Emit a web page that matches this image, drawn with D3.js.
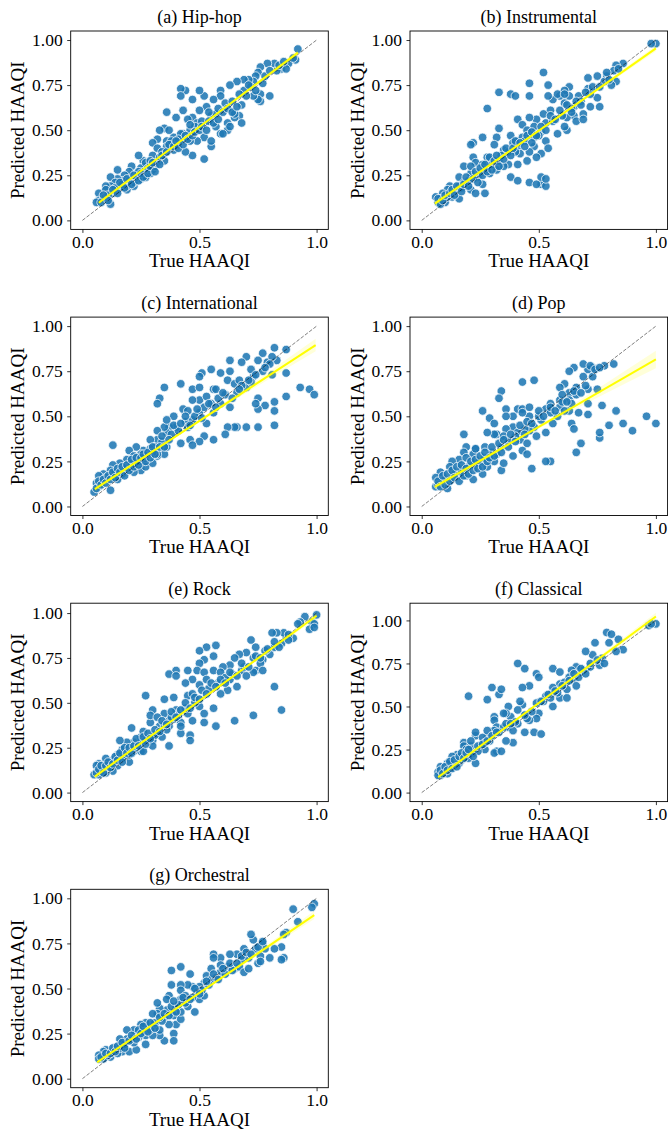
<!DOCTYPE html>
<html>
<head>
<meta charset="utf-8">
<script src="https://cdn.jsdelivr.net/npm/d3@7"></script>
<style>
   body { margin: 0; background: #fff; }
   svg { display: block; }
   text { font-family: "Liberation Serif", "DejaVu Serif", serif; fill: #000; }
</style>
</head>
<body>
<div id="chart"></div>
<script>

// PANEL TITLES
var titles = ['(a) Hip-hop', '(b) Instrumental', '(c) International', '(d) Pop', '(e) Rock', '(f) Classical', '(g) Orchestral'];

// TICK VALUES
var xTicks = [0.0, 0.5, 1.0];
var yTicks = [0.00, 0.25, 0.50, 0.75, 1.00];

// [TRUE HAAQI, PREDICTED HAAQI]
var hipHop = [[0.92,0.95],[0.91,0.89],[0.88,0.87],[0.85,0.84],[0.82,0.87],[0.79,0.87],[0.76,0.85],[0.75,0.82],[0.74,0.80],[0.73,0.77],[0.71,0.78],[0.69,0.78],[0.66,0.77],[0.63,0.75],[0.59,0.72],[0.59,0.69],[0.56,0.67],[0.52,0.69],[0.50,0.72],[0.47,0.67],[0.44,0.72],[0.42,0.73],[0.42,0.69],[0.43,0.61],[0.36,0.60],[0.40,0.57],[0.76,0.70],[0.80,0.69],[0.76,0.66],[0.75,0.67],[0.68,0.64],[0.67,0.58],[0.68,0.54],[0.65,0.57],[0.62,0.54],[0.62,0.50],[0.63,0.52],[0.57,0.52],[0.59,0.48],[0.55,0.58],[0.53,0.63],[0.50,0.61],[0.47,0.57],[0.45,0.56],[0.49,0.54],[0.46,0.50],[0.43,0.48],[0.52,0.46],[0.55,0.41],[0.55,0.44],[0.49,0.44],[0.47,0.36],[0.52,0.34],[0.39,0.46],[0.36,0.44],[0.35,0.51],[0.33,0.50],[0.37,0.50],[0.42,0.48],[0.40,0.41],[0.44,0.38],[0.39,0.39],[0.36,0.41],[0.32,0.45],[0.30,0.43],[0.32,0.40],[0.30,0.36],[0.26,0.33],[0.24,0.36],[0.27,0.30],[0.25,0.29],[0.23,0.26],[0.21,0.30],[0.20,0.27],[0.18,0.25],[0.17,0.22],[0.15,0.28],[0.15,0.23],[0.12,0.24],[0.14,0.21],[0.12,0.19],[0.10,0.19],[0.10,0.17],[0.07,0.15],[0.07,0.11],[0.09,0.12],[0.12,0.09],[0.06,0.10],[0.15,0.17],[0.19,0.17],[0.22,0.19],[0.25,0.23],[0.27,0.24],[0.29,0.26],[0.30,0.28],[0.32,0.32],[0.35,0.33],[0.27,0.32],[0.27,0.24],[0.22,0.21],[0.19,0.19],[0.16,0.19],[0.13,0.15],[0.10,0.13],[0.60,0.48],[0.65,0.59],[0.57,0.59],[0.73,0.69],[0.77,0.76],[0.83,0.83],[0.87,0.84],[0.90,0.90],[0.20,0.22],[0.23,0.24],[0.26,0.27],[0.28,0.29],[0.31,0.30],[0.33,0.35],[0.34,0.38],[0.38,0.44],[0.41,0.45],[0.44,0.47],[0.46,0.44],[0.48,0.52],[0.51,0.55],[0.54,0.55],[0.58,0.62],[0.61,0.65],[0.64,0.66],[0.69,0.72],[0.72,0.74],[0.08,0.10],[0.11,0.14],[0.14,0.18],[0.17,0.20],[0.24,0.27],[0.29,0.33],[0.09,0.14],[0.11,0.11],[0.13,0.17],[0.15,0.15],[0.16,0.21],[0.18,0.18],[0.19,0.23],[0.21,0.20],[0.22,0.25],[0.24,0.22],[0.25,0.26],[0.26,0.24],[0.28,0.26],[0.29,0.30],[0.30,0.32],[0.31,0.27],[0.33,0.31],[0.34,0.36],[0.36,0.38],[0.37,0.42],[0.39,0.41],[0.40,0.44],[0.41,0.40],[0.43,0.42],[0.45,0.45],[0.46,0.53],[0.47,0.47],[0.48,0.49],[0.50,0.50],[0.51,0.52],[0.53,0.50],[0.54,0.60],[0.56,0.54],[0.58,0.56],[0.60,0.60],[0.62,0.62],[0.64,0.60],[0.66,0.63],[0.67,0.70],[0.70,0.69],[0.71,0.75],[0.74,0.72],[0.78,0.80],[0.80,0.83],[0.84,0.86],[0.86,0.88]];

var instrumental = [[1.00,0.98],[0.98,0.98],[0.86,0.87],[0.83,0.86],[0.82,0.83],[0.79,0.80],[0.83,0.77],[0.81,0.75],[0.75,0.80],[0.71,0.79],[0.71,0.73],[0.67,0.69],[0.63,0.69],[0.75,0.68],[0.72,0.63],[0.76,0.63],[0.69,0.59],[0.65,0.58],[0.62,0.57],[0.66,0.55],[0.69,0.56],[0.62,0.50],[0.58,0.48],[0.61,0.52],[0.63,0.74],[0.61,0.72],[0.59,0.69],[0.56,0.67],[0.61,0.65],[0.55,0.61],[0.52,0.59],[0.49,0.56],[0.53,0.54],[0.51,0.49],[0.46,0.48],[0.48,0.52],[0.52,0.82],[0.46,0.76],[0.46,0.69],[0.54,0.75],[0.54,0.69],[0.58,0.70],[0.33,0.71],[0.38,0.70],[0.40,0.69],[0.28,0.62],[0.41,0.56],[0.46,0.57],[0.43,0.53],[0.33,0.51],[0.38,0.47],[0.32,0.46],[0.26,0.46],[0.31,0.42],[0.35,0.39],[0.41,0.41],[0.42,0.37],[0.48,0.41],[0.53,0.44],[0.54,0.40],[0.51,0.37],[0.49,0.35],[0.46,0.38],[0.45,0.33],[0.41,0.31],[0.37,0.31],[0.38,0.24],[0.41,0.22],[0.46,0.21],[0.51,0.20],[0.51,0.24],[0.53,0.19],[0.49,0.20],[0.53,0.23],[0.22,0.43],[0.21,0.42],[0.18,0.30],[0.22,0.35],[0.23,0.32],[0.26,0.31],[0.28,0.35],[0.25,0.26],[0.21,0.26],[0.16,0.24],[0.18,0.21],[0.16,0.19],[0.12,0.19],[0.11,0.17],[0.09,0.15],[0.06,0.13],[0.07,0.10],[0.10,0.10],[0.13,0.13],[0.16,0.12],[0.21,0.17],[0.23,0.15],[0.27,0.15],[0.26,0.20],[0.29,0.26],[0.32,0.28],[0.35,0.30],[0.33,0.33],[0.29,0.35],[0.21,0.30],[0.41,0.44],[0.43,0.46],[0.45,0.50],[0.48,0.46],[0.39,0.43],[0.61,0.70],[0.65,0.63],[0.78,0.77],[0.08,0.12],[0.11,0.13],[0.14,0.16],[0.17,0.18],[0.20,0.22],[0.24,0.24],[0.27,0.28],[0.30,0.31],[0.34,0.36],[0.37,0.38],[0.40,0.38],[0.44,0.44],[0.47,0.43],[0.50,0.47],[0.56,0.55],[0.60,0.58],[0.64,0.62],[0.68,0.66],[0.72,0.70],[0.80,0.78],[0.07,0.12],[0.08,0.09],[0.09,0.11],[0.10,0.14],[0.12,0.15],[0.13,0.17],[0.14,0.14],[0.15,0.19],[0.17,0.16],[0.18,0.20],[0.19,0.24],[0.20,0.19],[0.22,0.23],[0.23,0.27],[0.24,0.21],[0.25,0.29],[0.26,0.25],[0.27,0.31],[0.28,0.27],[0.30,0.28],[0.31,0.33],[0.32,0.36],[0.33,0.30],[0.35,0.34],[0.36,0.40],[0.38,0.36],[0.39,0.40],[0.40,0.44],[0.42,0.43],[0.44,0.41],[0.45,0.47],[0.47,0.49],[0.49,0.47],[0.51,0.52],[0.53,0.50],[0.55,0.58],[0.57,0.56],[0.59,0.61],[0.62,0.64],[0.64,0.60],[0.66,0.66],[0.68,0.64],[0.70,0.71],[0.73,0.74],[0.76,0.74],[0.79,0.82],[0.84,0.84]];

var international = [[0.87,0.87],[0.82,0.88],[0.83,0.81],[0.79,0.80],[0.77,0.85],[0.81,0.83],[0.75,0.81],[0.70,0.83],[0.68,0.80],[0.63,0.81],[0.63,0.75],[0.59,0.74],[0.55,0.76],[0.51,0.74],[0.50,0.72],[0.47,0.65],[0.50,0.66],[0.56,0.65],[0.62,0.70],[0.65,0.68],[0.67,0.70],[0.73,0.72],[0.77,0.75],[0.81,0.73],[0.87,0.74],[0.93,0.66],[0.97,0.65],[0.99,0.62],[0.87,0.61],[0.82,0.58],[0.82,0.53],[0.78,0.56],[0.75,0.60],[0.75,0.54],[0.74,0.57],[0.82,0.45],[0.75,0.44],[0.70,0.44],[0.66,0.44],[0.65,0.44],[0.62,0.44],[0.61,0.40],[0.56,0.37],[0.52,0.39],[0.50,0.36],[0.46,0.37],[0.42,0.35],[0.47,0.34],[0.42,0.68],[0.35,0.66],[0.33,0.60],[0.32,0.57],[0.39,0.50],[0.43,0.54],[0.44,0.47],[0.47,0.48],[0.50,0.52],[0.53,0.46],[0.56,0.52],[0.59,0.57],[0.63,0.55],[0.66,0.63],[0.50,0.59],[0.53,0.61],[0.40,0.44],[0.37,0.44],[0.36,0.41],[0.35,0.44],[0.32,0.42],[0.32,0.37],[0.31,0.33],[0.29,0.32],[0.26,0.31],[0.25,0.29],[0.23,0.33],[0.20,0.31],[0.13,0.34],[0.22,0.28],[0.19,0.26],[0.26,0.26],[0.32,0.28],[0.35,0.29],[0.36,0.33],[0.25,0.20],[0.20,0.22],[0.16,0.24],[0.13,0.23],[0.12,0.20],[0.09,0.18],[0.07,0.17],[0.06,0.13],[0.05,0.08],[0.07,0.11],[0.12,0.09],[0.15,0.15],[0.17,0.18],[0.22,0.19],[0.27,0.22],[0.30,0.24],[0.32,0.29],[0.29,0.37],[0.36,0.48],[0.45,0.44],[0.45,0.53],[0.47,0.59],[0.57,0.65],[0.70,0.66],[0.72,0.76],[0.80,0.79],[0.08,0.14],[0.10,0.16],[0.14,0.19],[0.18,0.21],[0.21,0.24],[0.24,0.25],[0.27,0.28],[0.30,0.30],[0.34,0.36],[0.38,0.40],[0.41,0.42],[0.48,0.50],[0.52,0.55],[0.55,0.57],[0.58,0.60],[0.61,0.62],[0.68,0.67],[0.72,0.69],[0.06,0.10],[0.07,0.14],[0.08,0.12],[0.09,0.15],[0.10,0.13],[0.11,0.17],[0.12,0.15],[0.13,0.19],[0.14,0.16],[0.15,0.21],[0.16,0.19],[0.17,0.22],[0.18,0.17],[0.19,0.23],[0.20,0.20],[0.21,0.26],[0.22,0.22],[0.23,0.27],[0.24,0.23],[0.25,0.27],[0.26,0.29],[0.27,0.25],[0.28,0.30],[0.29,0.27],[0.30,0.33],[0.31,0.29],[0.33,0.33],[0.34,0.39],[0.35,0.33],[0.37,0.37],[0.39,0.45],[0.42,0.46],[0.44,0.50],[0.46,0.45],[0.49,0.54],[0.51,0.49],[0.54,0.57],[0.57,0.55],[0.60,0.63],[0.64,0.60],[0.67,0.65],[0.71,0.70],[0.74,0.73],[0.78,0.77]];

var pop = [[1.00,0.46],[0.96,0.50],[0.90,0.42],[0.86,0.46],[0.80,0.45],[0.83,0.53],[0.77,0.56],[0.76,0.38],[0.76,0.41],[0.82,0.79],[0.78,0.78],[0.73,0.77],[0.71,0.76],[0.69,0.72],[0.75,0.65],[0.71,0.65],[0.66,0.66],[0.65,0.77],[0.63,0.75],[0.61,0.68],[0.59,0.66],[0.63,0.63],[0.66,0.62],[0.63,0.59],[0.59,0.59],[0.59,0.55],[0.55,0.57],[0.53,0.54],[0.63,0.53],[0.61,0.53],[0.67,0.52],[0.71,0.51],[0.64,0.46],[0.65,0.43],[0.58,0.50],[0.56,0.46],[0.66,0.30],[0.68,0.35],[0.55,0.25],[0.53,0.25],[0.47,0.21],[0.48,0.70],[0.43,0.69],[0.34,0.64],[0.33,0.60],[0.36,0.54],[0.41,0.54],[0.43,0.54],[0.46,0.55],[0.46,0.50],[0.39,0.50],[0.36,0.50],[0.39,0.44],[0.36,0.43],[0.32,0.40],[0.35,0.39],[0.41,0.41],[0.42,0.37],[0.45,0.35],[0.43,0.31],[0.45,0.29],[0.39,0.28],[0.34,0.20],[0.35,0.24],[0.31,0.40],[0.29,0.49],[0.28,0.41],[0.27,0.33],[0.23,0.32],[0.22,0.29],[0.19,0.33],[0.18,0.40],[0.18,0.30],[0.16,0.26],[0.13,0.25],[0.12,0.22],[0.08,0.19],[0.06,0.16],[0.06,0.11],[0.11,0.10],[0.09,0.14],[0.13,0.15],[0.16,0.17],[0.19,0.17],[0.22,0.15],[0.26,0.18],[0.28,0.22],[0.31,0.25],[0.32,0.29],[0.26,0.25],[0.22,0.23],[0.18,0.21],[0.19,0.27],[0.23,0.32],[0.43,0.52],[0.48,0.44],[0.51,0.48],[0.53,0.41],[0.49,0.39],[0.46,0.42],[0.69,0.79],[0.72,0.78],[0.26,0.53],[0.31,0.46],[0.71,0.57],[0.07,0.12],[0.10,0.15],[0.14,0.18],[0.17,0.19],[0.20,0.22],[0.24,0.24],[0.27,0.27],[0.30,0.30],[0.34,0.33],[0.37,0.36],[0.40,0.39],[0.44,0.43],[0.50,0.50],[0.55,0.52],[0.60,0.58],[0.64,0.57],[0.07,0.14],[0.08,0.11],[0.09,0.17],[0.10,0.12],[0.11,0.18],[0.12,0.14],[0.13,0.20],[0.14,0.16],[0.15,0.22],[0.16,0.14],[0.17,0.23],[0.18,0.17],[0.19,0.21],[0.20,0.18],[0.21,0.25],[0.22,0.20],[0.23,0.26],[0.24,0.21],[0.25,0.28],[0.26,0.22],[0.27,0.30],[0.28,0.25],[0.29,0.27],[0.30,0.33],[0.31,0.28],[0.33,0.35],[0.34,0.30],[0.35,0.37],[0.37,0.33],[0.38,0.40],[0.40,0.36],[0.42,0.45],[0.44,0.40],[0.45,0.47],[0.47,0.46],[0.50,0.53],[0.52,0.50],[0.55,0.55],[0.57,0.53],[0.60,0.62],[0.62,0.58],[0.65,0.64],[0.68,0.63],[0.70,0.67],[0.73,0.72],[0.74,0.76],[0.76,0.77]];

var rock = [[1.00,0.99],[0.95,0.98],[0.98,0.95],[0.99,0.94],[0.97,0.91],[0.99,0.92],[0.93,0.95],[0.90,0.86],[0.87,0.87],[0.86,0.89],[0.83,0.89],[0.81,0.89],[0.85,0.83],[0.82,0.81],[0.80,0.77],[0.77,0.74],[0.73,0.75],[0.72,0.85],[0.74,0.81],[0.70,0.78],[0.67,0.77],[0.65,0.75],[0.63,0.71],[0.60,0.70],[0.57,0.82],[0.53,0.81],[0.50,0.79],[0.56,0.76],[0.52,0.74],[0.50,0.72],[0.49,0.68],[0.52,0.67],[0.53,0.63],[0.56,0.68],[0.59,0.67],[0.63,0.63],[0.66,0.59],[0.68,0.68],[0.74,0.68],[0.73,0.67],[0.76,0.72],[0.77,0.68],[0.70,0.65],[0.62,0.57],[0.59,0.55],[0.50,0.60],[0.47,0.63],[0.44,0.61],[0.45,0.68],[0.40,0.68],[0.37,0.66],[0.40,0.65],[0.45,0.54],[0.47,0.55],[0.50,0.48],[0.52,0.44],[0.56,0.47],[0.52,0.39],[0.57,0.37],[0.65,0.40],[0.73,0.43],[0.82,0.59],[0.85,0.46],[0.47,0.40],[0.45,0.44],[0.42,0.33],[0.46,0.32],[0.46,0.29],[0.37,0.26],[0.39,0.53],[0.35,0.52],[0.30,0.46],[0.35,0.44],[0.39,0.41],[0.40,0.46],[0.42,0.39],[0.37,0.37],[0.33,0.37],[0.32,0.33],[0.30,0.29],[0.27,0.54],[0.29,0.39],[0.29,0.43],[0.25,0.31],[0.26,0.34],[0.25,0.28],[0.21,0.36],[0.22,0.28],[0.19,0.28],[0.16,0.29],[0.17,0.24],[0.22,0.23],[0.25,0.23],[0.18,0.20],[0.15,0.21],[0.13,0.18],[0.10,0.19],[0.07,0.16],[0.06,0.15],[0.05,0.10],[0.07,0.10],[0.09,0.13],[0.15,0.15],[0.13,0.12],[0.10,0.11],[0.20,0.17],[0.26,0.23],[0.30,0.26],[0.34,0.31],[0.36,0.35],[0.37,0.40],[0.32,0.42],[0.42,0.37],[0.08,0.12],[0.11,0.14],[0.14,0.17],[0.17,0.19],[0.20,0.21],[0.23,0.25],[0.27,0.29],[0.31,0.32],[0.35,0.38],[0.38,0.42],[0.41,0.43],[0.44,0.47],[0.48,0.50],[0.54,0.58],[0.58,0.61],[0.61,0.64],[0.64,0.66],[0.69,0.70],[0.78,0.79],[0.88,0.88],[0.06,0.11],[0.07,0.13],[0.08,0.15],[0.09,0.11],[0.10,0.15],[0.11,0.17],[0.12,0.14],[0.13,0.16],[0.14,0.20],[0.15,0.18],[0.16,0.22],[0.17,0.17],[0.18,0.25],[0.19,0.22],[0.20,0.25],[0.21,0.22],[0.22,0.26],[0.23,0.30],[0.24,0.26],[0.26,0.31],[0.27,0.27],[0.28,0.33],[0.29,0.30],[0.31,0.35],[0.33,0.34],[0.34,0.40],[0.36,0.38],[0.38,0.45],[0.40,0.42],[0.42,0.46],[0.44,0.50],[0.46,0.47],[0.48,0.53],[0.50,0.52],[0.51,0.57],[0.53,0.55],[0.55,0.61],[0.57,0.59],[0.59,0.63],[0.61,0.61],[0.63,0.67],[0.66,0.65],[0.68,0.72],[0.71,0.70],[0.74,0.76],[0.76,0.75],[0.79,0.80],[0.82,0.84],[0.84,0.81],[0.88,0.85],[0.92,0.94]];

var classical = [[1.00,0.98],[0.97,0.97],[0.98,0.98],[0.86,0.83],[0.83,0.82],[0.84,0.89],[0.79,0.93],[0.81,0.92],[0.80,0.87],[0.76,0.74],[0.73,0.80],[0.74,0.87],[0.70,0.82],[0.72,0.73],[0.69,0.71],[0.66,0.73],[0.64,0.71],[0.63,0.67],[0.65,0.66],[0.66,0.62],[0.62,0.60],[0.59,0.55],[0.62,0.55],[0.59,0.63],[0.56,0.72],[0.59,0.70],[0.56,0.61],[0.55,0.57],[0.56,0.50],[0.52,0.53],[0.55,0.55],[0.49,0.52],[0.50,0.46],[0.49,0.43],[0.46,0.42],[0.45,0.43],[0.49,0.69],[0.50,0.67],[0.44,0.72],[0.41,0.75],[0.46,0.62],[0.43,0.61],[0.43,0.51],[0.42,0.53],[0.37,0.50],[0.38,0.44],[0.36,0.46],[0.41,0.40],[0.37,0.38],[0.39,0.36],[0.44,0.35],[0.48,0.35],[0.51,0.34],[0.39,0.29],[0.36,0.30],[0.31,0.44],[0.31,0.42],[0.32,0.38],[0.35,0.38],[0.31,0.36],[0.28,0.54],[0.30,0.61],[0.33,0.57],[0.34,0.60],[0.20,0.56],[0.28,0.32],[0.23,0.33],[0.23,0.35],[0.32,0.24],[0.31,0.23],[0.34,0.24],[0.25,0.27],[0.27,0.25],[0.23,0.17],[0.22,0.23],[0.19,0.21],[0.18,0.29],[0.18,0.27],[0.15,0.22],[0.13,0.21],[0.12,0.16],[0.11,0.17],[0.08,0.15],[0.07,0.12],[0.09,0.12],[0.11,0.11],[0.16,0.17],[0.19,0.25],[0.21,0.27],[0.21,0.30],[0.26,0.32],[0.28,0.36],[0.35,0.46],[0.41,0.48],[0.36,0.40],[0.08,0.10],[0.10,0.13],[0.12,0.14],[0.14,0.16],[0.17,0.19],[0.20,0.20],[0.24,0.24],[0.27,0.29],[0.29,0.30],[0.33,0.35],[0.40,0.41],[0.47,0.47],[0.53,0.56],[0.58,0.58],[0.61,0.64],[0.67,0.67],[0.70,0.69],[0.77,0.78],[0.07,0.10],[0.08,0.13],[0.09,0.11],[0.10,0.15],[0.11,0.13],[0.12,0.18],[0.13,0.14],[0.14,0.19],[0.15,0.15],[0.16,0.21],[0.17,0.23],[0.18,0.20],[0.19,0.23],[0.20,0.25],[0.22,0.21],[0.24,0.27],[0.26,0.28],[0.28,0.30],[0.30,0.33],[0.32,0.35],[0.38,0.40],[0.44,0.45],[0.51,0.53],[0.54,0.57],[0.57,0.59],[0.60,0.62],[0.63,0.65],[0.65,0.69],[0.68,0.72],[0.72,0.75],[0.75,0.77],[0.78,0.75]];

var orchestral = [[0.99,0.97],[0.98,0.95],[0.90,0.94],[0.92,0.87],[0.87,0.81],[0.86,0.80],[0.85,0.73],[0.82,0.72],[0.86,0.67],[0.85,0.66],[0.80,0.67],[0.76,0.68],[0.77,0.75],[0.73,0.77],[0.72,0.80],[0.69,0.72],[0.66,0.69],[0.63,0.69],[0.59,0.67],[0.56,0.69],[0.56,0.67],[0.62,0.62],[0.65,0.61],[0.67,0.62],[0.69,0.59],[0.71,0.61],[0.75,0.64],[0.76,0.65],[0.59,0.59],[0.59,0.63],[0.55,0.61],[0.53,0.57],[0.55,0.55],[0.52,0.53],[0.50,0.51],[0.47,0.51],[0.50,0.44],[0.52,0.46],[0.45,0.52],[0.42,0.62],[0.46,0.58],[0.38,0.60],[0.38,0.52],[0.37,0.46],[0.42,0.52],[0.42,0.49],[0.44,0.46],[0.49,0.48],[0.48,0.37],[0.45,0.40],[0.42,0.44],[0.40,0.40],[0.39,0.35],[0.40,0.30],[0.39,0.25],[0.39,0.21],[0.42,0.33],[0.42,0.37],[0.36,0.38],[0.33,0.39],[0.32,0.36],[0.35,0.34],[0.37,0.30],[0.35,0.21],[0.33,0.24],[0.30,0.29],[0.27,0.31],[0.25,0.30],[0.27,0.24],[0.27,0.19],[0.23,0.25],[0.22,0.27],[0.19,0.27],[0.19,0.22],[0.16,0.22],[0.17,0.15],[0.20,0.15],[0.23,0.16],[0.22,0.20],[0.14,0.17],[0.10,0.16],[0.09,0.15],[0.07,0.13],[0.07,0.11],[0.12,0.12],[0.15,0.14],[0.30,0.24],[0.33,0.27],[0.30,0.36],[0.36,0.44],[0.32,0.42],[0.09,0.11],[0.11,0.13],[0.13,0.15],[0.16,0.17],[0.18,0.19],[0.21,0.22],[0.24,0.23],[0.26,0.26],[0.29,0.27],[0.31,0.31],[0.34,0.32],[0.38,0.40],[0.41,0.41],[0.44,0.42],[0.47,0.45],[0.51,0.49],[0.54,0.52],[0.57,0.56],[0.61,0.58],[0.64,0.60],[0.68,0.66],[0.71,0.67],[0.74,0.72],[0.78,0.72],[0.08,0.12],[0.10,0.14],[0.12,0.14],[0.13,0.17],[0.14,0.15],[0.15,0.18],[0.17,0.20],[0.18,0.17],[0.20,0.21],[0.21,0.24],[0.23,0.22],[0.24,0.27],[0.25,0.25],[0.26,0.29],[0.28,0.26],[0.29,0.31],[0.31,0.28],[0.33,0.34],[0.35,0.36],[0.37,0.35],[0.39,0.43],[0.40,0.37],[0.43,0.45],[0.46,0.44],[0.48,0.50],[0.50,0.47],[0.53,0.54],[0.56,0.58],[0.58,0.55],[0.60,0.61],[0.63,0.64],[0.66,0.64],[0.68,0.68],[0.70,0.70],[0.72,0.69],[0.75,0.73],[0.77,0.76]];

// REGRESSION FIT ENDPOINTS [[x0, y0], [x1, y1]]
var fits = [
   [[0.07,0.098],[0.92,0.930]],
   [[0.056,0.093],[1.00,0.954]],
   [[0.053,0.096],[0.996,0.895]],
   [[0.056,0.109],[1.00,0.815]],
   [[0.053,0.089],[1.00,0.985]],
   [[0.07,0.089],[1.00,1.023]],
   [[0.063,0.091],[0.99,0.907]]
];

// CONFIDENCE BAND HALF-WIDTHS AT START, MIDDLE, END
var bands = [
   [0.012,0.006,0.014],
   [0.014,0.006,0.016],
   [0.014,0.008,0.035],
   [0.016,0.010,0.048],
   [0.012,0.006,0.015],
   [0.015,0.008,0.022],
   [0.012,0.007,0.022]
];

// Y-AXIS UPPER LIMITS
var yMax = [1.05, 1.05, 1.05, 1.05, 1.055, 1.10, 1.05];

var series = [hipHop, instrumental, international, pop, rock, classical, orchestral];

// LAYOUT SETTINGS
var settings = {
   width: 668,
   height: 1131,
   left: [70.7, 410],
   top: 31,
   rowStep: 286.1,
   frameW: 257.6,
   frameH: 198.4,
   radius: 4.3,
   dot: '#1f77b4',
   fit: '#ffff00'
};

// GENERATE CANVAS
var canvas = d3.select('#chart').append('svg')
   .attr('width', settings.width)
   .attr('height', settings.height)

series.forEach((points, k) => {
   var col = k % 2, row = Math.floor(k / 2);
   var g = canvas.append('g')
      .attr('transform', 'translate(' + settings.left[col] + ',' + (settings.top + row * settings.rowStep) + ')')

   // X-SCALING
   var xScale = d3.scaleLinear()
      .domain([-0.05, 1.05])
      .range([0, settings.frameW])

   // Y-SCALING
   var yScale = d3.scaleLinear()
      .domain([-0.05 * yMax[k] / 1.05, yMax[k]])
      .range([settings.frameH, 0])

   // DOTS
   g.append('g').selectAll('circle')
      .data(points)
      .enter().append('circle')
         .attr('cx', (d) => { return xScale(d[0]) })
         .attr('cy', (d) => { return yScale(d[1]) })
         .attr('r', settings.radius)
         .attr('fill', settings.dot)
         .attr('fill-opacity', 0.88)
         .attr('stroke', '#fff')
         .attr('stroke-width', 0.75)

   // DIAGONAL REFERENCE
   g.append('line')
      .attr('x1', xScale(0)).attr('y1', yScale(0))
      .attr('x2', xScale(1)).attr('y2', yScale(1))
      .attr('stroke', '#000')
      .attr('stroke-opacity', 0.5)
      .attr('stroke-width', 1)
      .attr('stroke-dasharray', '3.7,1.6')

   // CONFIDENCE BAND
   var f = fits[k], b = bands[k];
   var slope = (f[1][1] - f[0][1]) / (f[1][0] - f[0][0]);
   var xm = (f[0][0] + f[1][0]) / 2;
   var bandPts = [
      [f[0][0], f[0][1], b[0]],
      [xm, f[0][1] + slope * (xm - f[0][0]), b[1]],
      [f[1][0], f[1][1], b[2]]
   ];
   g.append('path')
      .attr('d', d3.area()
         .curve(d3.curveNatural)
         .x((d) => { return xScale(d[0]) })
         .y0((d) => { return yScale(d[1] - d[2]) })
         .y1((d) => { return yScale(d[1] + d[2]) })(bandPts))
      .attr('fill', settings.fit)
      .attr('fill-opacity', 0.15)

   // FIT LINE
   g.append('path')
      .attr('d', d3.line()
         .x((d) => { return xScale(d[0]) })
         .y((d) => { return yScale(d[1]) })(f))
      .attr('fill', 'none')
      .attr('stroke', settings.fit)
      .attr('stroke-width', 2)

   // FRAME
   g.append('rect')
      .attr('width', settings.frameW)
      .attr('height', settings.frameH)
      .attr('fill', 'none')
      .attr('stroke', '#000')
      .attr('stroke-width', 0.9)

   // AXES
   var xAxis = g.append('g')
      .attr('transform', 'translate(0,' + settings.frameH + ')')
      .call(d3.axisBottom(xScale).tickValues(xTicks).tickFormat(d3.format('.1f')).tickSize(3.5).tickPadding(2.5))
   var yAxis = g.append('g')
      .call(d3.axisLeft(yScale).tickValues(yTicks).tickFormat(d3.format('.2f')).tickSize(3.5).tickPadding(4.5))
   ;[xAxis, yAxis].forEach((a) => {
      a.select('.domain').remove()
      a.selectAll('line').attr('stroke', '#000').attr('stroke-width', 0.8)
      a.selectAll('text').attr('font-size', 17.5).attr('fill', '#000')
   })

   // TITLE
   g.append('text')
      .attr('x', settings.frameW / 2)
      .attr('y', -8.5)
      .attr('text-anchor', 'middle')
      .attr('font-size', 18)
      .text(titles[k])

   // AXIS LABELS
   g.append('text')
      .attr('x', settings.frameW / 2)
      .attr('y', settings.frameH + 38)
      .attr('text-anchor', 'middle')
      .attr('font-size', 19)
      .text('True HAAQI')
   g.append('text')
      .attr('transform', 'translate(-46.5,' + (settings.frameH / 2) + ') rotate(-90)')
      .attr('text-anchor', 'middle')
      .attr('font-size', 19)
      .text('Predicted HAAQI')
})

</script>
</body>
</html>
